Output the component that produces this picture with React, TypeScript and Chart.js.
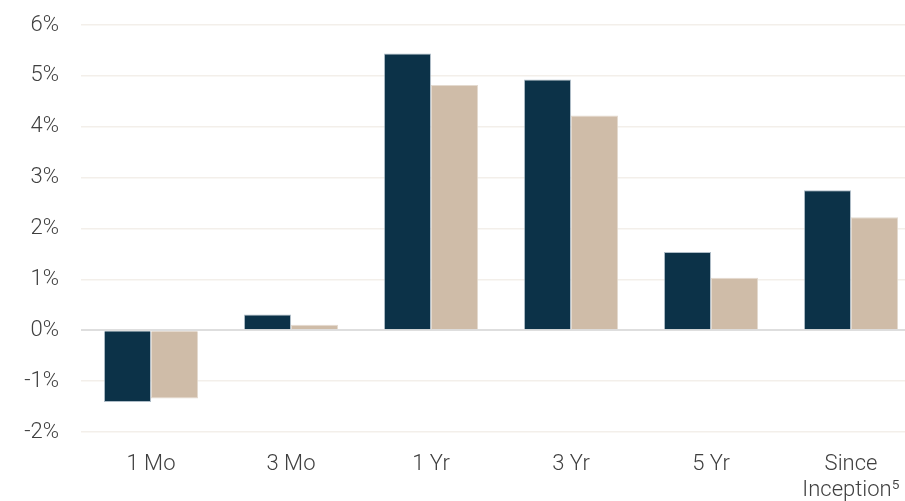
import React, { useEffect, useRef } from "react";
import { Chart, registerables } from "chart.js";

Chart.register(...registerables);

const categories: (string | string[])[] = ["1 Mo", "3 Mo", "1 Yr", "3 Yr", "5 Yr", ["Since", "Inception\u2075"]];
const fundReturns = [-1.41, 0.31, 5.44, 4.93, 1.54, 2.75];
const benchmarkReturns = [-1.34, 0.11, 4.82, 4.22, 1.03, 2.22];
const yTicks = [-2, -1, 0, 1, 2, 3, 4, 5, 6];

const NAVY = "#0c3248";
const BEIGE = "#cfbca8";
const TEXT = "#404040";
const FONT = "Roboto, 'Liberation Sans', sans-serif";

export default function App() {
  const canvasRef = useRef<HTMLCanvasElement | null>(null);

  useEffect(() => {
    const canvas = canvasRef.current;
    if (!canvas) return;
    const chart = new Chart(canvas, {
      type: "bar",
      data: {
        labels: categories,
        datasets: [
          {
            label: "Fund",
            data: fundReturns,
            backgroundColor: NAVY,
            borderColor: "rgba(140,160,175,0.7)",
            borderWidth: 1,
            categoryPercentage: 0.672,
            barPercentage: 1.0,
          },
          {
            label: "Benchmark",
            data: benchmarkReturns,
            backgroundColor: BEIGE,
            borderColor: "rgba(225,214,202,0.9)",
            borderWidth: 1,
            categoryPercentage: 0.672,
            barPercentage: 1.0,
          },
        ],
      },
      options: {
        responsive: false,
        animation: false,
        maintainAspectRatio: false,
        layout: { padding: { top: 25, right: 0, bottom: 0, left: 0 } },
        plugins: {
          legend: { display: false },
          tooltip: { enabled: false },
        },
        scales: {
          x: {
            grid: { display: false, drawTicks: false },
            border: { display: false },
            ticks: {
              color: TEXT,
              font: { family: FONT, size: 22, weight: "300", lineHeight: 1.2 },
              padding: 19,
              maxRotation: 0,
              autoSkip: false,
            },
            afterFit: (scale: any) => {
              scale.height = 69;
              scale.paddingLeft = 0;
              scale.paddingRight = 0;
            },
          },
          y: {
            min: yTicks[0],
            max: yTicks[yTicks.length - 1],
            afterBuildTicks: (scale: any) => {
              scale.ticks = yTicks.map((v) => ({ value: v }));
            },
            grid: {
              drawTicks: false,
              color: (ctx: any) => (ctx.tick && ctx.tick.value === 0 ? "#dedede" : "#f3efea"),
              lineWidth: (ctx: any) => (ctx.tick && ctx.tick.value === 0 ? 2 : 1.5),
            },
            border: { display: false },
            ticks: {
              color: TEXT,
              font: { family: FONT, size: 22, weight: "300" },
              padding: 22,
              callback: (v: any) => `${v}%`,
            },
            afterFit: (scale: any) => {
              scale.width = 81;
              scale.paddingTop = 0;
              scale.paddingBottom = 0;
            },
          },
        },
      },
    });
    return () => chart.destroy();
  }, []);

  return (
    <div style={{ position: "absolute", left: 0, top: 0, width: 905, height: 501, overflow: "hidden", background: "#ffffff" }}>
      <canvas ref={canvasRef} width={921} height={501} style={{ display: "block" }} />
    </div>
  );
}
